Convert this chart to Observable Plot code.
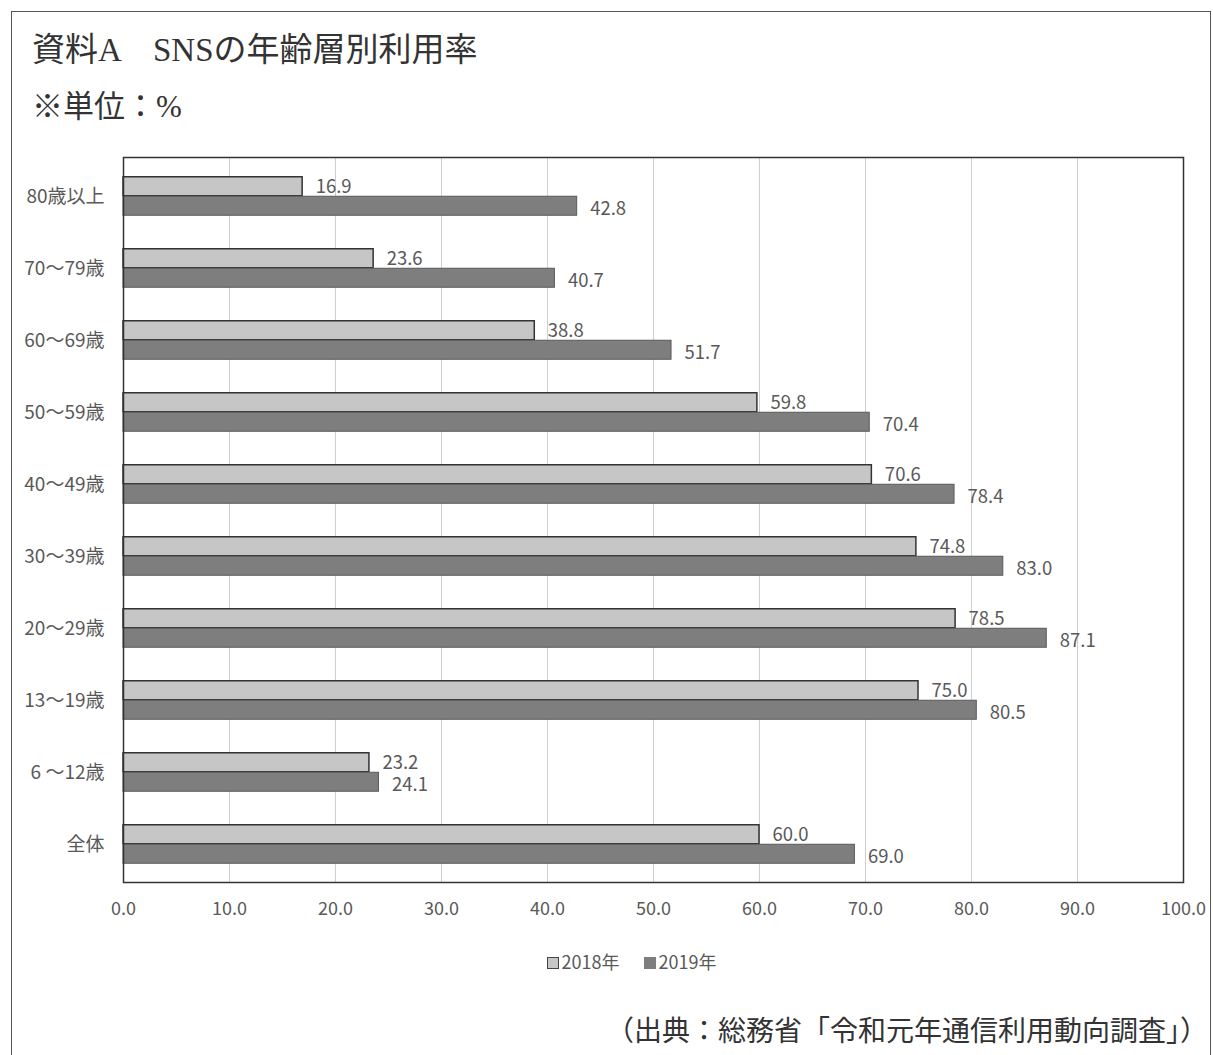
<!DOCTYPE html>
<html><head><meta charset="utf-8">
<script src="https://cdn.jsdelivr.net/npm/d3@7"></script>
<script src="https://cdn.jsdelivr.net/npm/@observablehq/plot@0.6"></script>
<style>
body{margin:0;background:#fff;width:1213px;height:1055px;overflow:hidden;position:relative;font-family:"Noto Sans CJK JP",sans-serif;}
#frame{position:absolute;left:11px;top:11px;width:1198px;height:1100px;border:1.5px solid #555;}
#title{position:absolute;left:32px;top:23px;font-family:"Liberation Serif","Noto Sans CJK JP",serif;font-size:33px;color:#333;white-space:nowrap;}
#sub{position:absolute;left:32px;top:81px;font-family:"Liberation Serif","Noto Sans CJK JP",serif;font-size:31px;color:#333;white-space:nowrap;}
#chart{position:absolute;left:0;top:0;}
#legend{position:absolute;left:0;width:1213px;top:948px;text-align:center;font-size:18px;color:#595959;padding-left:50px;box-sizing:border-box;}
#legend span.sw{display:inline-block;width:10px;height:10px;margin-right:3px;vertical-align:0px;border:1px solid #444;}
#legend span.item{margin:0 12px;}
#caption{position:absolute;right:5px;top:1009px;font-family:"Liberation Serif","Noto Sans CJK JP",serif;font-size:28px;color:#333;white-space:nowrap;}
</style></head>
<body>
<div id="frame"></div>
<div id="title">資料A　SNSの年齢層別利用率</div>
<div id="sub">※単位：%</div>
<div id="chart"></div>
<div id="legend"></div>
<div id="caption">（出典：総務省「令和元年通信利用動向調査」）</div>
<script>
const categories = ["80歳以上","70～79歳","60～69歳","50～59歳","40～49歳","30～39歳","20～29歳","13～19歳","6 ～12歳","全体"];
const years = ["2018年","2019年"];
const values2018 = [16.9,23.6,38.8,59.8,70.6,74.8,78.5,75.0,23.2,60.0];
const values2019 = [42.8,40.7,51.7,70.4,78.4,83.0,87.1,80.5,24.1,69.0];
const xTicks = [0,10,20,30,40,50,60,70,80,90,100];

const colors = {"2018年":"#c6c6c6","2019年":"#7e7e7e"};

const W = 1213, H = 940, mt = 157, mb = 58, ml = 123, mr = 30;
const band = (H - mt - mb) / categories.length;
const barH = 19.5;
const half = band / 2;

const d18 = categories.map((c,i)=>({cat:c, year:years[0], v:values2018[i]}));
const d19 = categories.map((c,i)=>({cat:c, year:years[1], v:values2019[i]}));

const plot = Plot.plot({
  width: W, height: H,
  marginTop: mt, marginBottom: mb, marginLeft: ml, marginRight: mr,
  style: {fontFamily: '"Noto Sans CJK JP", sans-serif', fontSize: "18px", color: "#595959", background: "transparent"},
  x: {domain: [0,100], ticks: xTicks, tickFormat: d => d.toFixed(1), tickSize: 0, tickPadding: 20, label: null},
  y: {domain: categories, padding: 0, tickSize: 0, tickPadding: 19, label: null},
  marks: [
    Plot.gridX(xTicks, {stroke: "#cfcfcf", strokeOpacity: 1, strokeWidth: 1}),
    Plot.barX(d18, {x: "v", y: "cat", fill: colors["2018年"], stroke: "#333", strokeWidth: 1.5, insetTop: half - barH, insetBottom: half}),
    Plot.barX(d19, {x: "v", y: "cat", fill: colors["2019年"], stroke: "#5a5a5a", strokeWidth: 1, insetTop: half, insetBottom: half - barH}),
    Plot.text(d18, {x: "v", y: "cat", text: d => d.v.toFixed(1), textAnchor: "start", dx: 13, dy: -barH/2, fill: "#595959", fontSize: 18.5}),
    Plot.text(d19, {x: "v", y: "cat", text: d => d.v.toFixed(1), textAnchor: "start", dx: 13, dy: barH/2 + 2.5, fill: "#595959", fontSize: 18.5}),
    Plot.axisY({tickSize: 0, tickPadding: 19, fontSize: 19, label: null}),
    Plot.frame({stroke: "#333", strokeWidth: 1.5})
  ]
});
document.getElementById("chart").appendChild(plot);

const lg = document.getElementById("legend");
years.forEach(y => {
  const item = document.createElement("span");
  item.className = "item";
  const sw = document.createElement("span");
  sw.className = "sw";
  sw.style.background = colors[y];
  if (y === years[1]) sw.style.borderColor = colors[y];
  item.appendChild(sw);
  item.appendChild(document.createTextNode(y));
  lg.appendChild(item);
});
</script>
</body></html>
